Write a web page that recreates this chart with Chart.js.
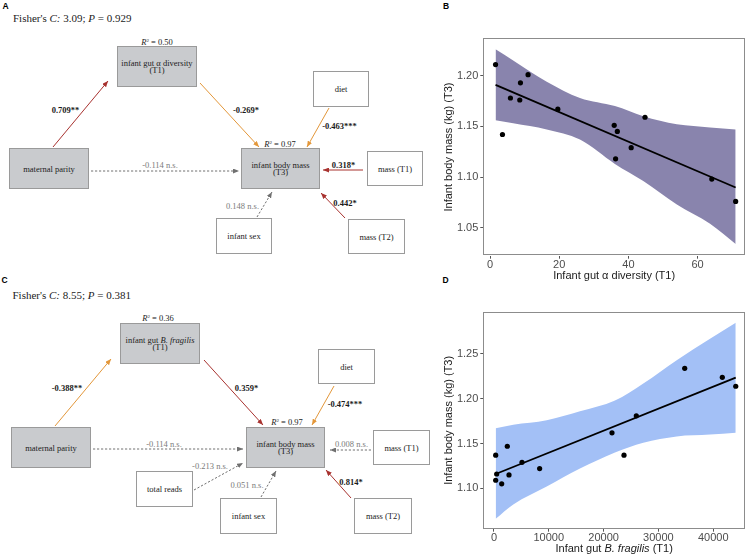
<!DOCTYPE html>
<html><head><meta charset="utf-8">
<script src="https://cdn.jsdelivr.net/npm/chart.js@4.4.0/dist/chart.umd.min.js"></script>
<style>
html,body{margin:0;padding:0;background:#fff;}
#wrap{position:relative;width:749px;height:557px;overflow:hidden;background:#fff;}
#diag{position:absolute;left:0;top:0;}
.cv{position:absolute;}
.nt{font-family:'Liberation Serif','Times New Roman',serif;font-size:8.5px;fill:#222;}
.cb{font-family:'Liberation Serif','Times New Roman',serif;font-size:8.5px;font-weight:bold;fill:#1a1a1a;}
.cn{font-family:'Liberation Serif','Times New Roman',serif;font-size:8.5px;fill:#7a7a7a;}
.r2{font-family:'Liberation Serif','Times New Roman',serif;font-size:8.5px;fill:#222;}
.ti{font-family:'Liberation Serif','Times New Roman',serif;font-size:11px;fill:#222;}
.pl{font-family:'Liberation Sans',Arial,sans-serif;font-size:8.5px;font-weight:bold;fill:#000;}
</style></head><body>
<div id="wrap">
<svg id="diag" width="749" height="557" xmlns="http://www.w3.org/2000/svg"></svg>
<div class="cv" style="left:420px;top:30px;"><canvas id="chartB" width="329" height="253"></canvas></div>
<div class="cv" style="left:420px;top:300px;"><canvas id="chartD" width="329" height="256"></canvas></div>
</div>
<script>
// ---------------- Panel B data (alpha diversity vs body mass) ----------------
const bDiversity = [1.6, 3.6, 5.9, 8.6, 8.8, 11.0, 19.6, 35.9, 36.8, 36.3, 40.8, 44.8, 64.1, 71.0];
const bMass      = [1.211, 1.142, 1.178, 1.176, 1.193, 1.201, 1.167, 1.151, 1.145, 1.118, 1.129, 1.159, 1.098, 1.076];
const bFitX = [1.6, 71.0];
const bFitY = [1.191, 1.0897];
const bBandX     = [1.6, 6.7, 16.4, 26.0, 36.1, 44.3, 54.0, 63.6, 71.0];
const bBandUpper = [1.226, 1.215, 1.194, 1.178, 1.170, 1.160, 1.152, 1.149, 1.147];
const bBandLower = [1.156, 1.153, 1.147, 1.137, 1.113, 1.096, 1.073, 1.054, 1.034];
const bXTicks = [0, 20, 40, 60];
const bYTicks = [1.05, 1.10, 1.15, 1.20];

// ---------------- Panel D data (B. fragilis vs body mass) ----------------
const dFragilis = [310, 490, 310, 1405, 2430, 2740, 5110, 8330, 21530, 23720, 25970, 34800, 41660, 44110];
const dMass     = [1.137, 1.116, 1.109, 1.105, 1.147, 1.115, 1.129, 1.122, 1.162, 1.137, 1.181, 1.234, 1.224, 1.214];
const dFitX = [310, 44110];
const dFitY = [1.116, 1.2237];
const dBandX     = [310, 3520, 9620, 15690, 22080, 27240, 33340, 39420, 44110];
const dBandUpper = [1.167, 1.171, 1.176, 1.186, 1.198, 1.217, 1.243, 1.267, 1.285];
const dBandLower = [1.066, 1.082, 1.102, 1.122, 1.140, 1.151, 1.158, 1.160, 1.162];
const dXTicks = [0, 10000, 20000, 30000, 40000];
const dYTicks = [1.10, 1.15, 1.20, 1.25];

// ---------------- Path diagram values ----------------
const fitStatsA = ['3.09', '0.929'];
const fitStatsC = ['8.55', '0.381'];
const r2A = ['0.50', '0.97'];
const r2C = ['0.36', '0.97'];
const coefA = ['0.709**', '-0.269*', '-0.463***', '-0.114 n.s.', '0.318*', '0.148 n.s.', '0.442*'];
const coefC = ['-0.388**', '0.359*', '-0.474***', '-0.114 n.s.', '0.008 n.s.', '-0.213 n.s.', '0.051 n.s.', '0.814*'];

// ================= diagrams (SVG) =================
const COL = {red:'#a8322f', orange:'#e3973a', ns:'#707070'};
let s = '<defs>';
for (const k in COL) {
  s += `<marker id="ah-${k}" viewBox="0 0 10 10" refX="10" refY="5" markerWidth="6" markerHeight="5" markerUnits="userSpaceOnUse" orient="auto" preserveAspectRatio="none"><path d="M0,0 L10,5 L0,10 z" fill="${COL[k]}"/></marker>`;
}
s += '<linearGradient id="lg" x1="0" x2="1" y1="0" y2="0"><stop offset="0" stop-color="#bbb"/><stop offset="0.12" stop-color="#555"/><stop offset="1" stop-color="#555"/></linearGradient>';
s += '</defs>';

function node(n){
  let o = `<rect x="${n.x+0.5}" y="${n.y+0.5}" width="${n.w}" height="${n.h}" fill="${n.gray?'#c9cbce':'#fff'}" stroke="#9a9a9a" stroke-width="1"/>`;
  const cx = n.x + n.w/2 + 0.5, cy = n.y + n.h/2 + 0.5;
  const offs = n.lines.length === 1 ? [0] : [-3.6, 3.9];
  n.lines.forEach((ln,i)=>{ o += `<text x="${cx}" y="${cy+offs[i]}" text-anchor="middle" dominant-baseline="central" class="nt">${ln}</text>`; });
  return o;
}
function edge(e, label){
  const dash = e.k === 'ns' ? ' stroke-dasharray="2.2,1.8"' : '';
  let o = `<line x1="${e.x1}" y1="${e.y1}" x2="${e.x2}" y2="${e.y2}" stroke="${COL[e.k]}" stroke-width="1"${dash} marker-end="url(#ah-${e.k})"/>`;
  o += `<text x="${e.lx}" y="${e.ly}" text-anchor="middle" dominant-baseline="central" class="${e.k==='ns'?'cn':'cb'}">${label}</text>`;
  return o;
}
function r2(x,y,v){
  return `<text x="${x}" y="${y}" text-anchor="middle" dominant-baseline="central" class="r2"><tspan font-style="italic">R</tspan><tspan font-size="5" dy="-2.5">2</tspan><tspan dy="2.5"> = ${v}</tspan></text>`;
}
function title(x,y,st){
  return `<text x="${x}" y="${y}" class="ti">Fisher's <tspan font-style="italic">C:</tspan> ${st[0]}; <tspan font-style="italic">P</tspan> = ${st[1]}</text>`;
}

// Panel A
s += '<text x="2.5" y="8.8" class="pl">A</text>';
s += title(13, 21.5, fitStatsA);
s += '<line x1="12" y1="29.5" x2="420" y2="29.5" stroke="url(#lg)" stroke-width="1"/>';
const nodesA = [
  {x:117,y:46,w:79,h:40,gray:true,lines:['infant gut α diversity','(T1)']},
  {x:313,y:71,w:55,h:35,lines:['diet']},
  {x:9,y:148,w:79,h:40,gray:true,lines:['maternal parity']},
  {x:241,y:148,w:78,h:40,gray:true,lines:['infant body mass','(T3)']},
  {x:367,y:151,w:55,h:34,lines:['mass (T1)']},
  {x:216,y:218,w:55,h:35,lines:['infant sex']},
  {x:348,y:219,w:56,h:34,lines:['mass (T2)']}
];
const edgesA = [
  {x1:53,y1:147,x2:108,y2:81,k:'red',lx:65.5,ly:110},
  {x1:200,y1:83,x2:259,y2:147,k:'orange',lx:246,ly:110},
  {x1:329,y1:108,x2:307,y2:147,k:'orange',lx:339.5,ly:126},
  {x1:91,y1:171,x2:239,y2:171,k:'ns',lx:160,ly:165},
  {x1:363,y1:170,x2:323,y2:170,k:'red',lx:343.5,ly:165},
  {x1:257,y1:217,x2:272,y2:192,k:'ns',lx:242.5,ly:206},
  {x1:345,y1:218,x2:321,y2:193,k:'red',lx:345,ly:203}
];
nodesA.forEach(n=> s += node(n));
edgesA.forEach((e,i)=> s += edge(e, coefA[i]));
s += r2(157,42,r2A[0]);
s += r2(280,144,r2A[1]);

// Panel C
s += '<text x="1.5" y="283" class="pl">C</text>';
s += title(12.5, 298.5, fitStatsC);
s += '<line x1="12" y1="305.5" x2="427" y2="305.5" stroke="url(#lg)" stroke-width="1"/>';
const nodesC = [
  {x:120,y:323,w:79,h:40,gray:true,lines:['infant gut <tspan font-style="italic">B. fragilis</tspan>','(T1)']},
  {x:318,y:349,w:56,h:34,lines:['diet']},
  {x:11,y:427,w:79,h:40,gray:true,lines:['maternal parity']},
  {x:246,y:427,w:78,h:40,gray:true,lines:['infant body mass','(T3)']},
  {x:373,y:430,w:56,h:34,lines:['mass (T1)']},
  {x:136,y:471,w:56,h:35,lines:['total reads']},
  {x:220,y:498,w:56,h:35,lines:['infant sex']},
  {x:354,y:498,w:57,h:35,lines:['mass (T2)']}
];
const edgesC = [
  {x1:55,y1:426,x2:111,y2:359,k:'orange',lx:67,ly:388},
  {x1:204,y1:360,x2:263,y2:425,k:'red',lx:246.5,ly:388},
  {x1:334,y1:386,x2:312,y2:425,k:'orange',lx:345,ly:404},
  {x1:93,y1:449,x2:243,y2:449,k:'ns',lx:164,ly:444},
  {x1:371,y1:450,x2:330,y2:450,k:'ns',lx:351.5,ly:444},
  {x1:194,y1:490,x2:243,y2:463,k:'ns',lx:210,ly:466},
  {x1:261,y1:497,x2:276,y2:471,k:'ns',lx:247,ly:485},
  {x1:351,y1:498,x2:326,y2:470,k:'red',lx:351,ly:482}
];
nodesC.forEach(n=> s += node(n));
edgesC.forEach((e,i)=> s += edge(e, coefC[i]));
s += r2(158,318,r2C[0]);
s += r2(287,422,r2C[1]);

s += '<text x="443" y="9" class="pl">B</text>';
s += '<text x="442.5" y="283" class="pl">D</text>';
document.getElementById('diag').innerHTML = s;

// ================= scatter charts (Chart.js) =================
const frame = {
  id: 'frame',
  afterDatasetsDraw(c){
    const a = c.chartArea, ctx = c.ctx;
    ctx.save();
    ctx.strokeStyle = '#8c8c8c'; ctx.lineWidth = 1;
    ctx.strokeRect(Math.round(a.left)+0.5, Math.round(a.top)+0.5, Math.round(a.right-a.left)-1, Math.round(a.bottom-a.top)-1);
    ctx.restore();
  }
};
const richXTitle = {
  id: 'richXTitle',
  afterDraw(c, args, opts){
    if (!opts.parts) return;
    const ctx = c.ctx, a = c.chartArea;
    ctx.save();
    ctx.fillStyle = '#1a1a1a'; ctx.textBaseline = 'middle';
    const fonts = opts.parts.map(p => (p[1] ? 'italic ' : '') + '11px "Liberation Sans", Arial, sans-serif');
    let widths = opts.parts.map((p,i)=>{ ctx.font = fonts[i]; return ctx.measureText(p[0]).width; });
    let x = (a.left + a.right)/2 - widths.reduce((u,v)=>u+v,0)/2;
    const y = c.height - 6.6;
    opts.parts.forEach((p,i)=>{ ctx.font = fonts[i]; ctx.textAlign='left'; ctx.fillText(p[0], x, y); x += widths[i]; });
    ctx.restore();
  }
};

function pts(xs, ys){ return xs.map((x,i)=>({x:x, y:ys[i]})); }

function makeScatter(id, cfg){
  const tickFont = {family:'"Liberation Sans", Arial, sans-serif', size:11, lineHeight:1};
  return new Chart(document.getElementById(id), {
    type: 'scatter',
    data: { datasets: [
      {type:'line', data: pts(cfg.bandX, cfg.lower), borderColor:'rgba(0,0,0,0)', borderWidth:0, pointRadius:0, fill:false, order:3, cubicInterpolationMode:'monotone'},
      {type:'line', data: pts(cfg.bandX, cfg.upper), borderColor:'rgba(0,0,0,0)', borderWidth:0, pointRadius:0, fill:'-1', backgroundColor: cfg.bandColor, order:2, cubicInterpolationMode:'monotone'},
      {type:'line', data: pts(cfg.fitX, cfg.fitY), borderColor:'#000', borderWidth:1.8, pointRadius:0, fill:false, order:1},
      {type:'scatter', data: pts(cfg.x, cfg.y), backgroundColor:'#000', borderColor:'#000', borderWidth:0, pointRadius:2.6, order:0}
    ]},
    options: {
      responsive:false, animation:false, devicePixelRatio:1,
      layout: {padding: cfg.padding},
      plugins: {legend:{display:false}, tooltip:{enabled:false}, richXTitle: {parts: cfg.richTitle}},
      scales: {
        x: {
          type:'linear', min: cfg.xMin, max: cfg.xMax,
          afterBuildTicks: sc => { sc.ticks = cfg.xTicks.map(v=>({value:v})); },
          afterFit: sc => { sc.height = cfg.xAxisH; },
          grid: {drawOnChartArea:false, color:'#555', tickLength:3},
          border: {display:false},
          ticks: {color:'#4d4d4d', font: tickFont, padding:1, maxRotation:0, autoSkip:false, callback: v => String(v)},
          title: {display: !cfg.richTitle, text: cfg.xTitle, color:'#1a1a1a', font:{family:'"Liberation Sans", Arial, sans-serif', size:11}, padding:0}
        },
        y: {
          type:'linear', min: cfg.yMin, max: cfg.yMax,
          afterBuildTicks: sc => { sc.ticks = cfg.yTicks.map(v=>({value:v})); },
          afterFit: sc => { sc.width = cfg.yAxisW; },
          grid: {drawOnChartArea:false, color:'#555', tickLength:3},
          border: {display:false},
          ticks: {color:'#4d4d4d', font: tickFont, padding:2, autoSkip:false, callback: v => Number(v).toFixed(2)},
          title: {display:true, text:'Infant body mass (kg) (T3)', color:'#1a1a1a', font:{family:'"Liberation Sans", Arial, sans-serif', size:11}, padding:0}
        }
      }
    },
    plugins: [frame, richXTitle]
  });
}

makeScatter('chartB', {
  x: bDiversity, y: bMass, fitX: bFitX, fitY: bFitY,
  bandX: bBandX, upper: bBandUpper, lower: bBandLower, bandColor: '#8984ad',
  xMin: -1.94, xMax: 73.7, yMin: 1.0224, yMax: 1.2369,
  xTicks: bXTicks, yTicks: bYTicks,
  padding: {left:22, right:4, top:8.3, bottom:0},
  xAxisH: 27.3, yAxisW: 41.3,
  xTitle: 'Infant gut α diversity (T1)'
});

makeScatter('chartD', {
  x: dFragilis, y: dMass, fitX: dFitX, fitY: dFitY,
  bandX: dBandX, upper: dBandUpper, lower: dBandLower, bandColor: '#a3c0f6',
  xMin: -1950, xMax: 45800, yMin: 1.0549, yMax: 1.2969,
  xTicks: dXTicks, yTicks: dYTicks,
  padding: {left:22, right:4, top:12, bottom:0},
  xAxisH: 27.3, yAxisW: 41.3,
  richTitle: [['Infant gut ', false], ['B. fragilis', true], [' (T1)', false]]
});
</script>
</body></html>
